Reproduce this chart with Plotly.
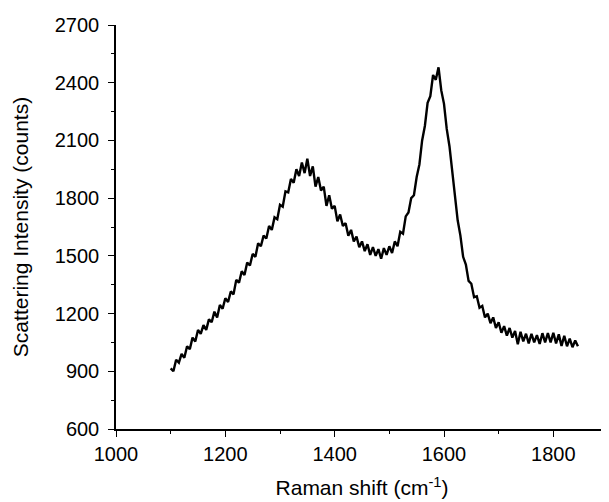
import plotly.graph_objects as go

raman_shift = [
    1100, 1105, 1110, 1115, 1120, 1125, 1130, 1135, 1140, 1145,
    1150, 1155, 1160, 1165, 1170, 1175, 1180, 1185, 1190, 1195,
    1200, 1205, 1210, 1215, 1220, 1225, 1230, 1235, 1240, 1245,
    1250, 1255, 1260, 1265, 1270, 1275, 1280, 1285, 1290, 1295,
    1300, 1305, 1310, 1315, 1320, 1325, 1330, 1335, 1340, 1345,
    1350, 1355, 1360, 1365, 1370, 1375, 1380, 1385, 1390, 1395,
    1400, 1405, 1410, 1415, 1420, 1425, 1430, 1435, 1440, 1445,
    1450, 1455, 1460, 1465, 1470, 1475, 1480, 1485, 1490, 1495,
    1500, 1505, 1510, 1515, 1520, 1525, 1530, 1535, 1540, 1545,
    1550, 1555, 1560, 1565, 1570, 1575, 1580, 1585, 1590, 1595,
    1600, 1605, 1610, 1615, 1620, 1625, 1630, 1635, 1640, 1645,
    1650, 1655, 1660, 1665, 1670, 1675, 1680, 1685, 1690, 1695,
    1700, 1705, 1710, 1715, 1720, 1725, 1730, 1735, 1740, 1745,
    1750, 1755, 1760, 1765, 1770, 1775, 1780, 1785, 1790, 1795,
    1800, 1805, 1810, 1815, 1820, 1825, 1830, 1835, 1840, 1845,
]

intensity = [
    915, 900, 960, 945, 990, 970, 1030, 1015, 1075, 1055,
    1115, 1095, 1140, 1115, 1170, 1155, 1210, 1180, 1245, 1225,
    1280, 1260, 1315, 1300, 1375, 1360, 1420, 1400, 1465, 1450,
    1510, 1495, 1565, 1550, 1605, 1590, 1655, 1635, 1700, 1690,
    1765, 1755, 1835, 1830, 1900, 1880, 1950, 1915, 1985, 1930,
    2005, 1915, 1965, 1860, 1910, 1840, 1860, 1760, 1815, 1745,
    1760, 1680, 1715, 1655, 1670, 1605, 1635, 1575, 1600, 1545,
    1575, 1525, 1560, 1505, 1545, 1500, 1535, 1485, 1540, 1505,
    1550, 1515, 1575, 1550, 1625, 1615, 1705, 1725, 1800, 1815,
    1910, 1975, 2100, 2175, 2295, 2330, 2440, 2415, 2480, 2360,
    2290, 2160, 2070, 1930, 1820, 1685, 1605, 1495, 1455, 1370,
    1355, 1285, 1290, 1230, 1240, 1180, 1200, 1150, 1180, 1125,
    1155, 1100, 1135, 1085, 1125, 1075, 1110, 1040, 1105, 1055,
    1095, 1045, 1095, 1050, 1088, 1042, 1098, 1050, 1098, 1050,
    1100, 1045, 1092, 1032, 1085, 1030, 1070, 1025, 1060, 1030,
]

x_ticks = [1000, 1200, 1400, 1600, 1800]
y_ticks = [600, 900, 1200, 1500, 1800, 2100, 2400, 2700]

FONT = "Arial, Liberation Sans, sans-serif"

fig = go.Figure()
fig.add_trace(go.Scatter(
    x=raman_shift, y=intensity, mode="lines",
    line=dict(color="black", width=2.4),
    showlegend=False,
))

fig.update_layout(
    width=609, height=502,
    margin=dict(l=108, r=9, t=17, b=81),
    paper_bgcolor="white", plot_bgcolor="white",
    font=dict(family=FONT, size=20, color="black"),
)
fig.update_xaxes(
    range=[1000, 1900], tickvals=x_ticks, ticktext=[str(v) for v in x_ticks],
    showgrid=False, zeroline=False, showline=True, linecolor="black", linewidth=1.5,
    ticks="outside", ticklen=6, tickwidth=1.2, tickcolor="black",
    minor=dict(ticks="outside", ticklen=3, dtick=100, tick0=1000, tickcolor="black", showgrid=False),
    tickfont=dict(size=20), automargin=False,
    title=dict(text="Raman shift (cm<sup>-1</sup>)", font=dict(size=21), standoff=17),
)
fig.update_yaxes(
    range=[600, 2700], tickvals=y_ticks, ticktext=[str(v) for v in y_ticks],
    showgrid=False, zeroline=False, showline=True, linecolor="black", linewidth=1.5,
    ticks="outside", ticklen=6, tickwidth=1.2, tickcolor="black",
    minor=dict(ticks="outside", ticklen=3, dtick=150, tick0=600, tickcolor="black", showgrid=False),
    tickfont=dict(size=20), automargin=False, ticklabelstandoff=5,
    title=dict(text="Scattering Intensity (counts)", font=dict(size=21), standoff=20),
)

fig.write_html("out.html")
